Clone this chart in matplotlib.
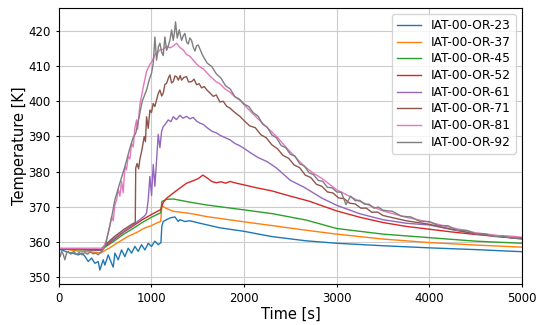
import matplotlib
matplotlib.use("Agg")
import matplotlib.pyplot as plt

# series: time [s] and temperature [K]
labels = ["IAT-00-OR-23", "IAT-00-OR-37", "IAT-00-OR-45", "IAT-00-OR-52",
          "IAT-00-OR-61", "IAT-00-OR-71", "IAT-00-OR-81", "IAT-00-OR-92"]

t_23 = [0, 50, 100, 150, 209, 250, 281, 317, 353, 389, 425, 443, 479, 497, 533, 569, 587, 605, 641, 677,
        713, 749, 785, 821, 857, 893, 929, 965, 1001, 1037, 1073, 1102, 1112, 1127, 1199, 1253, 1289, 1307,
        1361, 1415, 1523, 1739, 2000, 2300, 2670, 3000, 3500, 4000, 4500, 5000]
T_23 = [358, 357.5, 357, 356.8, 356.3, 356.8, 355.9, 354.4, 355.4, 353.9, 354.4, 352, 354.9, 353.4, 356.3,
        353.9, 352.8, 356.8, 354.9, 357.7, 355.8, 358.2, 356.8, 358.7, 357.3, 359.2, 357.7, 359.6, 358.7,
        360.2, 359.2, 359.8, 364.5, 365.8, 366.8, 367.1, 365.8, 366.3, 365.8, 366, 365.3, 364, 363, 361.5,
        360.3, 359.6, 358.9, 358.3, 357.8, 357.2]

t_37 = [0, 100, 200, 300, 400, 450, 500, 550, 600, 650, 700, 750, 800, 850, 900, 950, 1000, 1050, 1100,
        1112, 1163, 1235, 1415, 1595, 2000, 2311, 2671, 3000, 3500, 4000, 4500, 5000]
T_37 = [358, 357.8, 357.4, 357.2, 357, 356.8, 357.6, 358.3, 359.2, 360, 360.8, 361.6, 362.2, 362.8, 363.6,
        364.2, 364.6, 365.3, 365.8, 370.2, 369.5, 368.7, 368.1, 367.2, 365.7, 364.6, 363.3, 362.2, 360.8,
        359.8, 359.1, 358.5]

t_45 = [0, 200, 400, 450, 500, 600, 700, 800, 900, 1000, 1100, 1112, 1163, 1235, 1415, 1595, 2000, 2311,
        2671, 3000, 3500, 4000, 4500, 5000]
T_45 = [358, 357.8, 357.6, 357.6, 358.5, 360.3, 362.2, 363.8, 365.5, 367, 368.3, 371.5, 372.1, 372.2,
        371.3, 370.5, 369.1, 368, 366.2, 363.8, 362.2, 361.2, 360.2, 359.6]

t_52 = [0, 200, 400, 450, 500, 600, 700, 800, 900, 1000, 1100, 1127, 1163, 1235, 1307, 1379, 1451, 1505,
        1555, 1600, 1650, 1700, 1750, 1800, 1850, 1900, 1950, 2000, 2150, 2300, 2500, 2700, 2850, 3000,
        3250, 3500, 3750, 4000, 4250, 4500, 4750, 5000]
T_52 = [358, 357.9, 357.7, 357.6, 358.8, 360.8, 362.8, 364.5, 366.3, 367.8, 369.2, 371.2, 372.4, 373.9,
        375.3, 376.7, 377.4, 378, 379, 378.2, 377.2, 376.8, 377.1, 376.7, 377.2, 376.8, 376.5, 376.2, 375.3,
        374.5, 373, 371.6, 370.2, 368.8, 367, 365.5, 364.4, 363.6, 362.8, 362.1, 361.5, 361]

t_61 = [0, 200, 400, 450, 500, 600, 700, 800, 875, 930, 947, 965, 983, 1001, 1019, 1037, 1055, 1073,
        1091, 1110, 1127, 1150, 1181, 1210, 1235, 1270, 1307, 1340, 1380, 1415, 1450, 1490, 1523, 1560,
        1600, 1650, 1700, 1750, 1800, 1850, 1900, 1950, 2000, 2060, 2150, 2250, 2350, 2500, 2650, 2843,
        3000, 3250, 3500, 3750, 4000, 4250, 4500, 4750, 5000]
T_61 = [358, 357.9, 357.7, 357.6, 359, 361, 363, 364.8, 366.3, 367.5, 368.2, 372, 378.6, 373.2, 382,
        375.8, 383.2, 390.6, 386.8, 391.5, 392.8, 393.5, 394.7, 394.2, 395.6, 394.8, 396, 395.2, 395.7,
        395, 395.4, 394.3, 393.8, 393.4, 392.5, 391.5, 391, 390.2, 389.6, 389, 388, 387.4, 386.6, 385.5,
        384, 382.8, 381, 377.5, 375.5, 372.4, 370.4, 368, 366.3, 365.3, 364.8, 363.5, 362.3, 361.6, 361]

t_71 = [0, 200, 400, 450, 500, 600, 700, 800, 825, 830, 845, 861, 875, 897, 922, 935, 947, 965, 983,
        1000, 1019, 1037, 1055, 1073, 1091, 1110, 1127, 1145, 1163, 1181, 1199, 1217, 1235, 1253, 1271,
        1290, 1310, 1325, 1350, 1379, 1400, 1433, 1460, 1487, 1515, 1541, 1570, 1595, 1630, 1667, 1700,
        1739, 1775, 1811, 1850, 1883, 1920, 1955, 2000, 2060, 2120, 2180, 2240, 2300, 2360, 2420, 2480,
        2540, 2600, 2660, 2720, 2780, 2840, 2900, 2960, 3020, 3080, 3140, 3200, 3260, 3320, 3380, 3440,
        3500, 3750, 4000, 4250, 4500, 4750, 5000]
T_71 = [358, 358, 357.8, 357.7, 359.2, 361.5, 363.5, 365.2, 365.5, 381, 382.3, 380.8, 383.5, 386.2, 390,
        388.5, 395.6, 392.3, 397.5, 396.8, 399.4, 398.5, 400.4, 402.2, 403.2, 401.5, 402.3, 404.8, 405.1,
        406.5, 407.5, 405.2, 405.6, 407.2, 407, 406, 407.3, 406, 406.8, 407, 405.5, 405.6, 406.3, 404.7,
        405, 403.8, 404.2, 403.3, 402.4, 401.4, 401.8, 399.8, 400, 398.6, 398, 397.2, 396.4, 395.7, 394.5,
        393.0, 392.5, 390.5, 389.6, 387.6, 386.5, 384.6, 383.8, 381.9, 381.1, 379.0, 378.3, 376.4, 375.8,
        374.2, 373.9, 372.5, 372.3, 371.0, 370.8, 369.6, 369.6, 368.4, 368.5, 367.5, 366, 365, 363.5,
        362.3, 361.5, 360.8]

t_81 = [0, 200, 400, 480, 515, 551, 569, 587, 605, 625, 641, 659, 677, 695, 713, 730, 749, 767, 785, 803,
        821, 839, 850, 875, 911, 947, 983, 1010, 1037, 1064, 1091, 1127, 1163, 1199, 1235, 1271, 1307,
        1343, 1379, 1415, 1451, 1487, 1523, 1560, 1595, 1630, 1667, 1700, 1739, 1790, 1847, 1900, 1955,
        2000, 2063, 2150, 2250, 2350, 2457, 2550, 2650, 2750, 2843, 3000, 3100, 3250, 3500, 3750, 4000,
        4250, 4500, 4750, 4900, 5000]
T_81 = [358.2, 358.2, 358.2, 358.2, 360.6, 364.5, 367.2, 366, 370.5, 372, 375, 373, 377.2, 374, 381.4,
        380.5, 384.3, 383.6, 388, 387, 392.3, 394.7, 392, 399, 404, 408.5, 410.5, 411.5, 413.3, 413.8,
        414.6, 414.8, 415.7, 415.2, 415.7, 416.5, 415.3, 414.6, 413.3, 412.8, 411.7, 410.6, 409.8, 409.2,
        408.2, 407.2, 406.3, 405.5, 405, 403.6, 402.6, 401.3, 400.3, 399, 397.3, 395, 392.5, 390, 386.8,
        384.2, 381.5, 379.5, 378, 374.8, 373.5, 371.5, 368.8, 367, 365.6, 364, 362.6, 361.8, 361.6, 361.3]

t_92 = [0, 15, 30, 47, 65, 83, 101, 130, 160, 190, 220, 250, 280, 310, 340, 370, 400, 425, 445, 470, 500,
        533, 570, 605, 650, 713, 760, 800, 831, 870, 900, 947, 980, 1001, 1020, 1037, 1055, 1075, 1091,
        1110, 1127, 1145, 1163, 1181, 1200, 1217, 1235, 1248, 1260, 1278, 1300, 1325, 1343, 1361, 1380,
        1397, 1415, 1433, 1450, 1469, 1487, 1505, 1550, 1600, 1650, 1700, 1750, 1800, 1850, 1900, 1950,
        2000, 2050, 2100, 2150, 2200, 2250, 2300, 2350, 2400, 2450, 2500, 2550, 2600, 2650, 2700, 2750,
        2800, 2850, 2900, 2950, 3000, 3050, 3100, 3150, 3200, 3250, 3300, 3350, 3400, 3450, 3500, 3600,
        3700, 3800, 3900, 4000, 4100, 4200, 4300, 4400, 4500, 4600, 4700, 4800, 4900, 5000]
T_92 = [357.3, 355.8, 357.3, 356.5, 354.9, 356.8, 357.2, 356.5, 357.3, 356.4, 357, 356.3, 357, 356.5,
        357.2, 356.6, 356.8, 356.3, 356.9, 357.5, 358.8, 362.6, 367, 372, 376, 381.4, 386, 389.5, 391, 396,
        400, 403.2, 406.5, 408, 411, 418.3, 411.7, 415.5, 416.5, 414, 413, 418.3, 414.5, 415.7, 417.5,
        420.3, 417.3, 419.5, 422.6, 418, 420.3, 417.3, 418.6, 419.3, 416.8, 416.3, 418, 417.3, 415.5,
        414.3, 415.8, 416, 413.2, 410.9, 409.9, 407.8, 406.6, 404.4, 403.5, 401.3, 400.6, 399.2, 398.5,
        396.7, 395.8, 393.5, 392.6, 390.4, 389.6, 387.4, 386.8, 384.9, 384.4, 382.2, 381.6, 379.7, 379.1,
        377.5, 377.2, 375.5, 375.4, 374.2, 374.1, 370.6, 373.0, 371.7, 371.8, 370.7, 370.7, 369.6, 369.9,
        369.0, 368.7, 367.3, 367.1, 365.8, 365.8, 364.6, 364.6, 363.3, 363.3, 362.3, 362.3, 361.5, 361.6,
        361.0, 361.2]

times = [t_23, t_37, t_45, t_52, t_61, t_71, t_81, t_92]
temps = [T_23, T_37, T_45, T_52, T_61, T_71, T_81, T_92]

fig, ax = plt.subplots(figsize=(5.5, 3.25), dpi=100)
fig.subplots_adjust(left=0.107, right=0.949, top=0.975, bottom=0.126)

for t, T, lab in zip(times, temps, labels):
    ax.plot(t, T, lw=1.0, label=lab)

ax.set_xlim(0, 5000)
ax.set_ylim(348, 426.5)
ax.set_xticks([0, 1000, 2000, 3000, 4000, 5000])
ax.set_yticks([350, 360, 370, 380, 390, 400, 410, 420])
ax.grid(True, color="#cccccc", lw=0.8)
ax.tick_params(labelsize=8.5, length=2.5)
ax.set_xlabel("Time [s]", fontsize=10.5, labelpad=1)
ax.set_ylabel("Temperature [K]", fontsize=10.5, labelpad=1)
ax.legend(loc="upper right", fontsize=8.8, labelspacing=0.3)

fig.savefig("out.png", dpi=100)
